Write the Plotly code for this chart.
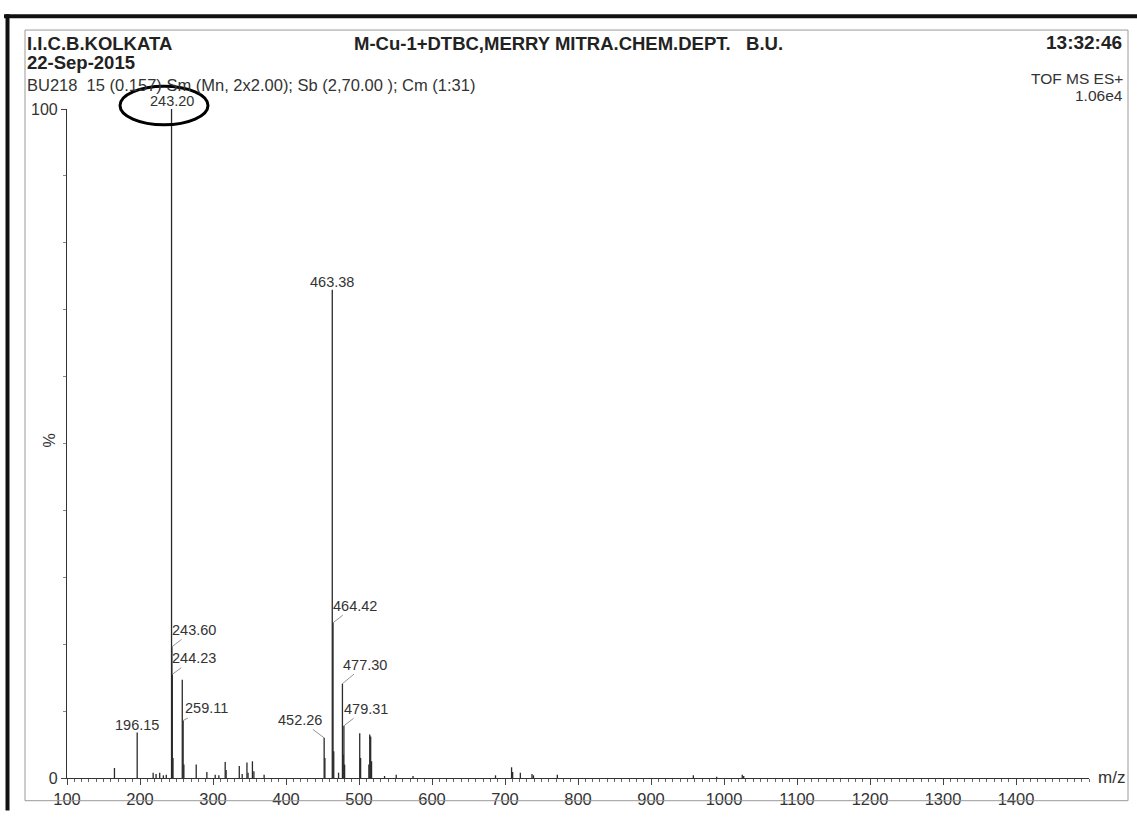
import plotly.graph_objects as go

# ---------------- data ----------------
peak_mz = [165.0, 196.15, 218.0, 222.0, 227.0, 232.0, 236.0,
           243.20, 243.60, 244.23, 245.2, 257.9, 259.11, 260.1,
           277.0, 291.6, 303.0, 308.0, 316.7, 318.0, 336.0, 340.0,
           346.5, 348.0, 354.0, 356.0, 370.0,
           452.26, 453.3, 463.38, 464.42, 465.4, 472.0, 477.30, 478.3,
           479.31, 480.3, 501.0, 502.2, 513.5, 514.7, 516.0, 517.2,
           535.0, 551.0, 574.0, 687.0, 709.0, 710.5, 721.0, 737.0,
           739.0, 771.7, 958.0, 990.0, 1025.0, 1027.0]
peak_int = [1.5, 6.8, 0.8, 0.6, 0.8, 0.4, 0.5,
            100.0, 19.6, 15.5, 3.0, 14.7, 8.6, 2.0,
            2.0, 0.9, 0.5, 0.4, 2.4, 1.2, 1.8, 0.6,
            2.3, 0.8, 2.5, 1.0, 0.5,
            6.0, 3.0, 73.0, 23.2, 4.0, 0.8, 14.1, 3.5,
            7.8, 2.0, 6.7, 3.0, 2.0, 6.5, 6.2, 2.5,
            0.3, 0.5, 0.3, 0.4, 1.6, 0.9, 0.8, 0.6,
            0.4, 0.5, 0.4, 0.2, 0.5, 0.3]

# labelled peaks
label_mz = [243.20, 463.38, 196.15, 243.60, 244.23, 259.11, 452.26, 464.42, 477.30, 479.31]
label_int = [100.0, 73.0, 6.8, 19.6, 15.5, 8.6, 6.0, 23.2, 14.1, 7.8]
label_text = ["243.20", "463.38", "196.15", "243.60", "244.23", "259.11",
              "452.26", "464.42", "477.30", "479.31"]

x_ticks = [100, 200, 300, 400, 500, 600, 700, 800, 900, 1000, 1100, 1200, 1300, 1400]
y_ticks = [0, 100]

header_left = ["I.I.C.B.KOLKATA", "22-Sep-2015"]
header_info = "BU218  15 (0.157) Sm (Mn, 2x2.00); Sb (2,70.00 ); Cm (1:31)"
header_title = "M-Cu-1+DTBC,MERRY MITRA.CHEM.DEPT.   B.U."
header_time = "13:32:46"
header_mode = ["TOF MS ES+", "1.06e4"]

# ---------------- layout helpers ----------------
W, H = 1137, 820
L, R, T, B = 67, 48, 109, 33
FONT = "Liberation Sans, Arial, sans-serif"
TXT = "#333333"


def px(x):
    return (x - L) / (W - L - R)


def py(y):
    return (H - B - y) / (H - T - B)


# leader-line offsets (pixels) for labels that are not directly above a peak
leader = {
    "243.60": (22, -17),
    "244.23": (22, -16),
    "259.11": (23, -12),
    "452.26": (-24, -18),
    "464.42": (22, -17),
    "477.30": (23, -19),
    "479.31": (22, -17),
}

# stick spectrum
xs, ys = [], []
for m, v in zip(peak_mz, peak_int):
    xs += [m, m, None]
    ys += [0, v, None]

fig = go.Figure()
fig.add_trace(go.Scatter(x=xs, y=ys, mode="lines",
                         line=dict(color="#2a2a2a", width=1.3),
                         hoverinfo="skip", showlegend=False, cliponaxis=False))

annotations = []
for m, v, t in zip(label_mz, label_int, label_text):
    if t in leader:
        ax, ay = leader[t]
        annotations.append(dict(x=m, y=v, xref="x", yref="y", text=t,
                                showarrow=True, arrowhead=0, arrowwidth=0.8,
                                arrowcolor="#777777", ax=ax, ay=ay,
                                font=dict(family=FONT, size=14.5, color=TXT)))
    else:
        annotations.append(dict(x=m, y=v, xref="x", yref="y", text=t,
                                showarrow=False, yanchor="bottom", yshift=-2,
                                font=dict(family=FONT, size=14.5, color=TXT)))

BOLD = 18.5
# header text
annotations += [
    dict(x=px(25), y=py(43), xref="paper", yref="paper", text="<b>%s</b>" % header_left[0],
         showarrow=False, xanchor="left", yanchor="middle",
         font=dict(family=FONT, size=BOLD, color="#222222")),
    dict(x=px(25), y=py(62), xref="paper", yref="paper", text="<b>%s</b>" % header_left[1],
         showarrow=False, xanchor="left", yanchor="middle",
         font=dict(family=FONT, size=BOLD, color="#222222")),
    dict(x=px(25), y=py(85), xref="paper", yref="paper", text=header_info,
         showarrow=False, xanchor="left", yanchor="middle",
         font=dict(family=FONT, size=16.5, color=TXT)),
    dict(x=px(568), y=py(43), xref="paper", yref="paper", text="<b>%s</b>" % header_title,
         showarrow=False, xanchor="center", yanchor="middle",
         font=dict(family=FONT, size=BOLD, color="#222222")),
    dict(x=px(1124), y=py(42), xref="paper", yref="paper", text="<b>%s</b>" % header_time,
         showarrow=False, xanchor="right", yanchor="middle",
         font=dict(family=FONT, size=19, color="#222222")),
    dict(x=px(1124), y=py(78), xref="paper", yref="paper", text=header_mode[0],
         showarrow=False, xanchor="right", yanchor="middle", borderpad=0,
         font=dict(family=FONT, size=15.5, color=TXT)),
    dict(x=px(1124), y=py(95), xref="paper", yref="paper", text=header_mode[1],
         showarrow=False, xanchor="right", yanchor="middle", borderpad=0,
         font=dict(family=FONT, size=15.5, color=TXT)),
    dict(x=px(1096), y=py(786), xref="paper", yref="paper", text="m/z",
         showarrow=False, xanchor="left", yanchor="middle",
         font=dict(family=FONT, size=17, color=TXT)),
    dict(x=px(50), y=py(445), xref="paper", yref="paper", text="%",
         showarrow=False, xanchor="center", yanchor="middle", textangle=-90,
         font=dict(family=FONT, size=16, color=TXT)),
]

shapes = [
    # outer thick scan border (top + left)
    dict(type="line", xref="paper", yref="paper", x0=px(4), x1=px(1137), y0=py(15), y1=py(15),
         line=dict(color="#111111", width=4)),
    dict(type="line", xref="paper", yref="paper", x0=px(7.5), x1=px(7.5), y0=py(13), y1=py(820),
         line=dict(color="#111111", width=4)),
    # inner thin frame
    dict(type="rect", xref="paper", yref="paper", x0=px(25), x1=px(1128), y0=py(810), y1=py(29),
         line=dict(color="#9a9a9a", width=1)),
    # hand-drawn ellipse around the base peak label
    dict(type="circle", xref="paper", yref="paper", x0=px(120), x1=px(208), y0=py(125), y1=py(86),
         line=dict(color="#000000", width=3)),
]

fig.update_layout(
    width=W, height=H,
    margin=dict(l=L, r=R, t=T, b=B),
    paper_bgcolor="white", plot_bgcolor="white",
    showlegend=False,
    annotations=annotations,
    shapes=shapes,
    xaxis=dict(range=[100, 1500], tickvals=x_ticks, ticktext=[str(v) for v in x_ticks],
               ticks="outside", ticklen=6, tickwidth=1, tickcolor="#444444",
               minor=dict(dtick=10, tick0=100, ticks="outside", ticklen=3, tickcolor="#666666"),
               showline=True, linecolor="#333333", linewidth=1.2,
               showgrid=False, zeroline=False,
               tickfont=dict(family=FONT, size=16.5, color=TXT)),
    yaxis=dict(range=[0, 100], tickvals=y_ticks, ticktext=[str(v) for v in y_ticks],
               ticks="outside", ticklen=5, tickwidth=1, tickcolor="#444444",
               minor=dict(dtick=10, tick0=0, ticks="outside", ticklen=3, tickcolor="#888888"),
               showline=True, linecolor="#333333", linewidth=1.2,
               showgrid=False, zeroline=False,
               tickfont=dict(family=FONT, size=16, color=TXT)),
)

fig.write_html("out.html", config={"displayModeBar": False},
               post_script="document.body.style.margin='0';document.body.style.overflow='hidden';")
